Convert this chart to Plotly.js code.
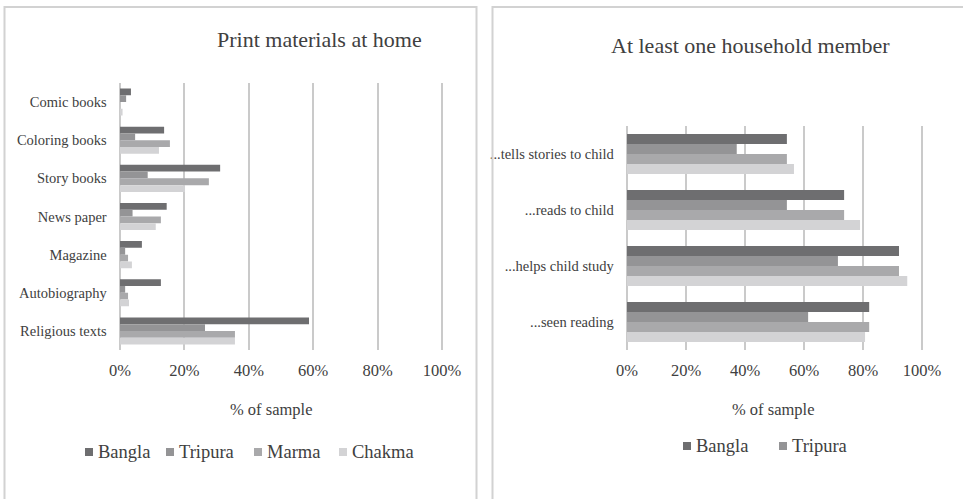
<!DOCTYPE html>
<html>
<head>
<meta charset="utf-8">
<script src="https://cdn.plot.ly/plotly-3.0.1.min.js"></script>
<style>
  html, body { margin: 0; padding: 0; background: #ffffff; }
  #chart { width: 963px; height: 499px; }
</style>
</head>
<body>
<div id="chart"></div>
<script>
// Groups shown in both panels
const groups = ['Bangla', 'Tripura', 'Marma', 'Chakma'];

// Left panel: print materials found at home (% of sample)
const materials = ['Comic books', 'Coloring books', 'Story books', 'News paper',
                   'Magazine', 'Autobiography', 'Religious texts'];
const materialsBangla  = [3.4, 13.7, 31.1, 14.5, 6.8, 12.7, 58.7];
const materialsTripura = [1.9, 4.7, 8.6, 3.9, 1.6, 1.6, 26.4];
const materialsMarma   = [0.0, 15.5, 27.6, 12.7, 2.5, 2.5, 35.7];
const materialsChakma  = [0.8, 12.1, 20.2, 11.1, 3.7, 2.8, 35.7];

// Right panel: at least one household member ... (% of sample)
const activities = ['...tells stories to child', '...reads to child',
                    '...helps child study', '...seen reading'];
const activitiesBangla  = [54.2, 73.6, 92.2, 82.1];
const activitiesTripura = [37.2, 54.2, 71.5, 61.4];
const activitiesMarma   = [54.2, 73.6, 92.2, 82.1];
const activitiesChakma  = [56.6, 79.0, 95.0, 80.7];

const pctTicks = [0, 20, 40, 60, 80, 100];

// ---- styling ----
const W = 963, H = 499;
const FONT = 'Liberation Serif, Times New Roman, serif';
const TEXT = '#404040';
const GRID = '#cacaca';
const colors = ['#6e6e70', '#949496', '#a9a9ab', '#d3d3d5'];

// pixel -> paper helpers (margins are zero, so paper == page)
const px = v => v / W;
const py = v => 1 - v / H;

const leftSets  = [materialsBangla, materialsTripura, materialsMarma, materialsChakma];
const rightSets = [activitiesBangla, activitiesTripura, activitiesMarma, activitiesChakma];

const traces = [];
groups.forEach((g, i) => {
  traces.push({
    type: 'bar', orientation: 'h', name: g,
    y: materials, x: leftSets[i],
    xaxis: 'x', yaxis: 'y',
    marker: { color: colors[i], line: { width: 0 } },
    showlegend: false, hoverinfo: 'x+y+name'
  });
});
groups.forEach((g, i) => {
  traces.push({
    type: 'bar', orientation: 'h', name: g,
    y: activities, x: rightSets[i],
    xaxis: 'x2', yaxis: 'y2',
    marker: { color: colors[i], line: { width: 0 } },
    showlegend: false, hoverinfo: 'x+y+name'
  });
});

// A little padding either side so the 0% and 100% grid lines are kept
const PAD = 0.4;
const xAxisBase = {
  range: [-PAD, 100 + PAD],
  tickvals: pctTicks,
  ticktext: pctTicks.map(v => v + '%'),
  showgrid: true, gridcolor: GRID, gridwidth: 2,
  zeroline: false, showline: false, ticks: '',
  ticklabelstandoff: 8,
  tickfont: { family: FONT, size: 16.5, color: TEXT },
  fixedrange: true
};
const yAxisBase = {
  type: 'category', autorange: 'reversed',
  showgrid: false, zeroline: false, showline: false, ticks: '',
  ticklabelstandoff: 11,
  tickfont: { family: FONT, size: 14.5, color: TEXT },
  fixedrange: true
};
// widen a pixel span so that 0..100 still lands on [a, b]
function dom(a, b) {
  const k = (b - a) / 100;
  return [px(a - PAD * k), px(b + PAD * k)];
}

// Open panel frames (top and side edges)
const frame = '#d2d2d2';
const shapes = [
  { type: 'path', xref: 'paper', yref: 'paper',
    path: `M${px(4.5)},${py(499)} L${px(4.5)},${py(7)} L${px(476.5)},${py(7)} L${px(476.5)},${py(499)}`,
    line: { color: frame, width: 2 } },
  { type: 'path', xref: 'paper', yref: 'paper',
    path: `M${px(492.5)},${py(499)} L${px(492.5)},${py(7)} L${px(963)},${py(7)}`,
    line: { color: frame, width: 2 } }
];

const annotations = [];
function text(t, x, y, size, anchor) {
  annotations.push({
    text: t, xref: 'paper', yref: 'paper', x: px(x), y: py(y),
    xanchor: anchor || 'center', yanchor: 'middle', showarrow: false,
    font: { family: FONT, size: size, color: TEXT }
  });
}

// Panel titles and axis titles
text('Print materials at home', 319, 40, 22);
text('At least one household member', 750, 46, 22);
text('% of sample', 271, 409, 16.5);
text('% of sample', 773, 409, 16.5);

// Legends: small colour square followed by the group name
function legend(names, starts, y) {
  names.forEach((n, i) => {
    const x0 = starts[i];
    shapes.push({
      type: 'rect', xref: 'paper', yref: 'paper',
      x0: px(x0), x1: px(x0 + 8), y0: py(y + 4), y1: py(y - 4),
      fillcolor: colors[groups.indexOf(n)], line: { width: 0 }
    });
    text(n, x0 + 11, y, 18.5, 'left');
  });
}
legend(groups, [85, 166, 254, 339], 452);
legend(groups.slice(0, 2), [683, 779], 446);

const layout = {
  width: W, height: H,
  margin: { l: 0, r: 0, t: 0, b: 0, pad: 0 },
  paper_bgcolor: '#ffffff', plot_bgcolor: 'rgba(0,0,0,0)',
  barmode: 'group', bargap: 0.29, bargroupgap: 0,
  showlegend: false,
  font: { family: FONT, color: TEXT },
  xaxis:  Object.assign({}, xAxisBase, { domain: dom(120, 442), anchor: 'y' }),
  yaxis:  Object.assign({}, yAxisBase, { domain: [py(350), py(83)], anchor: 'x' }),
  xaxis2: Object.assign({}, xAxisBase, { domain: dom(627, 922), anchor: 'y2' }),
  yaxis2: Object.assign({}, yAxisBase, { domain: [py(350), py(126)], anchor: 'x2' }),
  shapes: shapes,
  annotations: annotations
};

Plotly.newPlot('chart', traces, layout, { displayModeBar: false, staticPlot: true });
</script>
</body>
</html>
